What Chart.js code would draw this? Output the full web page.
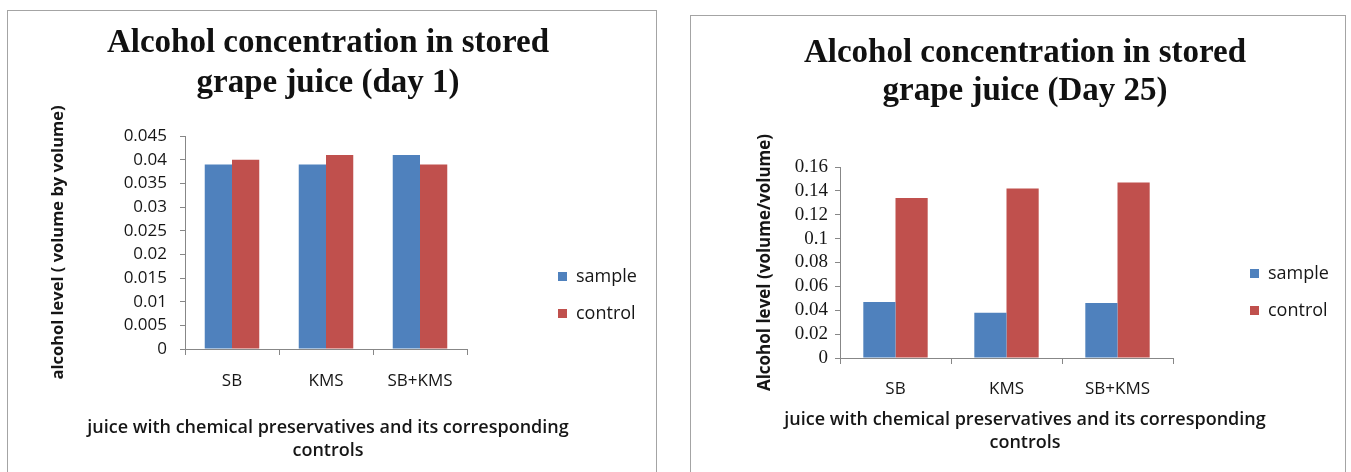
<!DOCTYPE html>
<html>
<head>
<meta charset="utf-8">
<script src="https://cdn.jsdelivr.net/npm/chart.js@4.4.1/dist/chart.umd.min.js"></script>
<style>
  html, body { margin: 0; padding: 0; background: #fff; width: 1351px; height: 472px; overflow: hidden; }
  .panel { position: absolute; border: 1px solid #a4a4a4; background: #fff; }
  #p1 { left: 7px; top: 10px; width: 648px; height: 600px; }
  #p2 { left: 690px; top: 15px; width: 654px; height: 600px; }
  canvas { position: absolute; left: 0; top: 0; }
</style>
</head>
<body>
<div class="panel" id="p1"><canvas id="day1" width="648" height="568"></canvas></div>
<div class="panel" id="p2"><canvas id="day25" width="654" height="552"></canvas></div>
<script>
// Treatments and series
const categories = ['SB', 'KMS', 'SB+KMS'];
const seriesNames = ['sample', 'control'];

// Alcohol level, day 1 (volume by volume)
const day1Sample = [0.039, 0.039, 0.041];
const day1Control = [0.040, 0.041, 0.039];

// Alcohol level, day 25 (volume/volume)
const day25Sample = [0.047, 0.038, 0.046];
const day25Control = [0.134, 0.142, 0.147];

// Y tick labels
const day1Ticks = ['0', '0.005', '0.01', '0.015', '0.02', '0.025', '0.03', '0.035', '0.04', '0.045'];
const day25Ticks = ['0', '0.02', '0.04', '0.06', '0.08', '0.1', '0.12', '0.14', '0.16'];

// Titles
const day1Title = ['Alcohol concentration in stored', 'grape juice (day 1)'];
const day25Title = ['Alcohol concentration in stored', 'grape juice (Day 25)'];
const xAxisTitle = ['juice with chemical preservatives and its corresponding', 'controls'];
const day1YTitle = 'alcohol level ( volume by volume)';
const day25YTitle = 'Alcohol level (volume/volume)';

const SAMPLE_COLOR = '#4F81BD';
const CONTROL_COLOR = '#C0504D';
const AXIS_COLOR = '#878787';
const TEXT_COLOR = '#161616';
const SANS = "'Open Sans', 'Noto Sans', sans-serif";
const SERIF = "'Liberation Serif', 'DejaVu Serif', serif";

Chart.defaults.animation = false;
Chart.defaults.plugins.tooltip.enabled = false;

// Invisible right-hand axis used only to reserve horizontal room
function spacer(weight, widthFn) {
  return {
    position: 'right', display: true, weight: weight,
    grid: { display: false }, border: { display: false },
    ticks: { display: false }, title: { display: false },
    afterFit: s => { s.width = widthFn(s); }
  };
}

function buildChart(id, o) {
  return new Chart(document.getElementById(id), {
    type: 'bar',
    data: {
      labels: categories,
      datasets: [
        { label: seriesNames[0], data: o.sample, backgroundColor: SAMPLE_COLOR, borderWidth: 0,
          categoryPercentage: 0.58, barPercentage: 1.0 },
        { label: seriesNames[1], data: o.control, backgroundColor: CONTROL_COLOR, borderWidth: 0,
          categoryPercentage: 0.58, barPercentage: 1.0 }
      ]
    },
    options: {
      responsive: false,
      layout: { padding: { left: o.padLeft, right: o.padRight, top: 0, bottom: 0 } },
      plugins: {
        title: {
          display: true, text: o.title, color: '#111',
          font: { family: SERIF, size: 33, weight: 'bold', lineHeight: o.titleLine / 33 },
          padding: o.titlePad
        },
        // x-axis caption, spanning the full width below the category axis
        subtitle: {
          display: true, position: 'bottom', text: xAxisTitle, color: TEXT_COLOR,
          font: { family: SANS, size: 18, weight: '600', lineHeight: 23 / 18 },
          padding: o.xTitlePad
        },
        legend: {
          position: 'right', align: 'center', maxWidth: 300,
          labels: { boxWidth: 9, boxHeight: 9, padding: 19, color: TEXT_COLOR,
                    font: { family: SANS, size: 18 } }
        }
      },
      scales: {
        x: {
          grid: { display: true, drawOnChartArea: false, offset: true, tickLength: 6, color: AXIS_COLOR },
          border: { display: true, color: AXIS_COLOR, width: 1 },
          ticks: { color: TEXT_COLOR, padding: o.xTickPad, font: { family: SANS, size: 17 } },
          afterFit: s => { s.height = o.xHeight; }
        },
        y: {
          min: 0, max: o.yMax,
          grid: { display: true, drawOnChartArea: false, tickLength: 5, color: AXIS_COLOR },
          border: { display: true, color: AXIS_COLOR, width: 1 },
          ticks: { stepSize: o.yStep, autoSkip: false, color: TEXT_COLOR, padding: o.yTickPad,
                   font: o.yTickFont, callback: (v, i) => o.yTicks[i] },
          title: {
            display: true, text: o.yTitle, color: TEXT_COLOR,
            font: { family: SANS, size: o.yTitleSize, weight: 'bold', lineHeight: 1.2 },
            padding: { top: o.yTitleOffset, bottom: 0 }
          },
          afterFit: s => { s.width = o.yWidth; }
        },
        gapInner: spacer(0, () => o.gapInner),
        gapOuter: spacer(2000, s => Math.max(0, o.legendSpan - s.chart.legend.width))
      }
    }
  });
}

buildChart('day1', {
  sample: day1Sample, control: day1Control,
  title: day1Title, titleLine: 40, titlePad: { top: 12, bottom: 33 },
  padLeft: 0, padRight: 8,
  yMax: 0.045, yStep: 0.005, yTicks: day1Ticks, yTickPad: 13,
  yTickFont: { family: SANS, size: 17 },
  yTitle: day1YTitle, yTitleSize: 16.5, yTitleOffset: 40, yWidth: 177,
  xTickPad: 16, xHeight: 58, xTitlePad: { top: 9.5, bottom: 116.5 },
  gapInner: 72, legendSpan: 648 - 8 - 459 - 72
});

buildChart('day25', {
  sample: day25Sample, control: day25Control,
  title: day25Title, titleLine: 38, titlePad: { top: 18, bottom: 57 },
  padLeft: 14, padRight: 0,
  yMax: 0.16, yStep: 0.02, yTicks: day25Ticks, yTickPad: 7,
  yTickFont: { family: SERIF, size: 19 },
  yTitle: day25YTitle, yTitleSize: 17, yTitleOffset: 50, yWidth: 135,
  xTickPad: 15, xHeight: 50, xTitlePad: { top: 0, bottom: 114 },
  gapInner: 58, legendSpan: 654 - 0 - 482 - 58
});
</script>
</body>
</html>
